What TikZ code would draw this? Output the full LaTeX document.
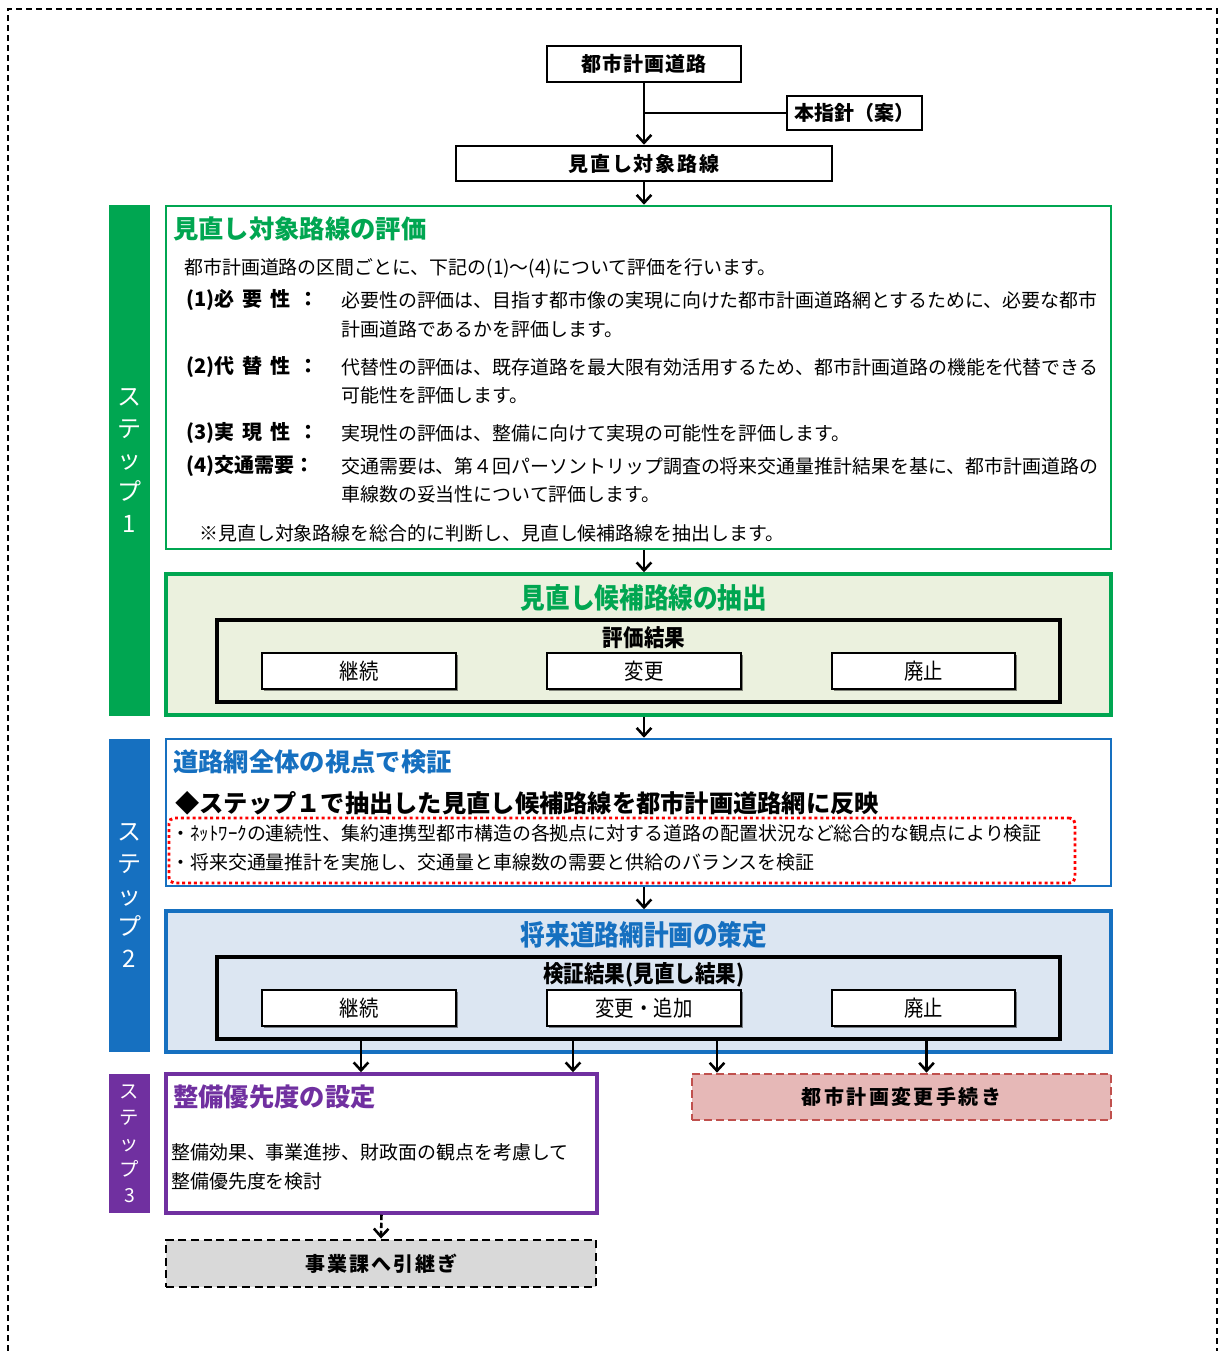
\documentclass[tikz,border=0pt]{standalone}
\usepackage{fontspec}
\setmainfont{Noto Sans CJK JP}
\usepackage{graphicx}
\usetikzlibrary{arrows.meta,calc,shadows}
\definecolor{sgreen}{RGB}{0,166,81}
\definecolor{lgreen}{RGB}{235,241,222}
\definecolor{sblue}{RGB}{22,112,192}
\definecolor{lblue}{RGB}{220,230,242}
\definecolor{spurple}{RGB}{112,48,160}
\definecolor{redfill}{RGB}{230,184,183}
\definecolor{redline}{RGB}{192,80,77}
\definecolor{grayfill}{RGB}{217,217,217}
\newcommand{\jbody}{\fontsize{14.2pt}{17pt}\selectfont}
\newcommand{\jtitle}{\fontsize{19pt}{22pt}\selectfont\bfseries}
\newcommand{\jctitle}{\fontsize{21pt}{24pt}\selectfont\bfseries}
\newcommand{\jitem}{\fontsize{15pt}{18pt}\selectfont\bfseries}
\newcommand{\jbox}{\fontsize{15pt}{18pt}\selectfont\bfseries}
\newcommand{\jres}{\fontsize{16.5pt}{19pt}\selectfont}
\newcommand{\jhead}{\fontsize{17.5pt}{20pt}\selectfont\bfseries}
\newcommand{\jcond}[1]{\scalebox{0.88}[1]{#1}}
\tikzset{
  conn/.style={line width=1.9pt},
  arr/.style={conn,-{Straight Barb[length=6pt,width=11pt]}},
  blk/.style={draw,line width=1.9pt,fill=white,inner sep=0pt,font=\jbox},
  res/.style={draw,line width=1.5pt,fill=white,inner sep=0pt,font=\jres,
    minimum width=194*0.75pt,minimum height=36*0.75pt,
    drop shadow={shadow xshift=1.3pt,shadow yshift=-1.3pt,fill=black,opacity=0.45}},
  inbox/.style={draw,line width=2.3pt,inner sep=0pt,minimum width=843*0.75pt,minimum height=82*0.75pt},
  side/.style={inner sep=0pt,minimum width=41*0.75pt,text=white,align=center},
  bigbox/.style={inner sep=0pt,minimum width=945*0.75pt},
  txt/.style={anchor=west,inner sep=0pt,font=\jbody},
  itm/.style={anchor=west,inner sep=0pt,font=\jitem},
}
\begin{document}
\begin{tikzpicture}[x=0.75pt,y=-0.75pt]
\useasboundingbox (0,0) rectangle (1219,1351);
\fill[white] (0,0) rectangle (1219,1351);
\draw[line width=0.8pt,dash pattern=on 4.5pt off 3pt] (8,1351) -- (8,9) -- (1217,9) -- (1217,1351);

% ---- top
\node[blk,minimum width=194*0.75pt,minimum height=36*0.75pt] (toshi) at (644,64) {\addfontfeature{LetterSpace=5}都市計画道路};
\node[blk,minimum width=135*0.75pt,minimum height=34*0.75pt] (shishin) at (854.5,113) {本指針（案）};
\node[blk,minimum width=376*0.75pt,minimum height=35*0.75pt] (taisho) at (644,163.5) {\addfontfeature{LetterSpace=9}見直し対象路線};

% ---- step 1
\node[side,fill=sgreen,minimum height=511*0.75pt,font=\fontsize{18pt}{23.8pt}\selectfont] (side1) at (129.5,460.5) {ス\\テ\\ッ\\プ\\1};
\node[bigbox,draw=sgreen,line width=1.9pt,fill=white,minimum height=343*0.75pt] (s1a) at (638.5,377.5) {};
\node[txt,font=\jtitle,text=sgreen] (t1) at (173,229) {見直し対象路線の評価};
\node[txt] (l0) at (184,268) {都市計画道路の区間ごとに、下記の(1)～(4)について評価を行います。};
\node[itm] (i1) at (186,300) {(1)必\hspace{0.4em}要\hspace{0.4em}性\hspace{0.4em}：};
\node[txt] (l1a) at (341,300) {必要性の評価は、目指す都市像の実現に向けた都市計画道路網とするために、必要な都市};
\node[txt] (l1b) at (341,329) {計画道路であるかを評価します。};
\node[itm] (i2) at (186,367) {(2)代\hspace{0.4em}替\hspace{0.4em}性\hspace{0.4em}：};
\node[txt] (l2a) at (341,367) {代替性の評価は、既存道路を最大限有効活用するため、都市計画道路の機能を代替できる};
\node[txt] (l2b) at (341,395) {可能性を評価します。};
\node[itm] (i3) at (186,433) {(3)実\hspace{0.4em}現\hspace{0.4em}性\hspace{0.4em}：};
\node[txt] (l3a) at (341,433) {実現性の評価は、整備に向けて実現の可能性を評価します。};
\node[itm] (i4) at (186,466) {(4)交通需要：};
\node[txt] (l4a) at (341,466) {交通需要は、第４回パーソントリップ調査の将来交通量推計結果を基に、都市計画道路の};
\node[txt] (l4b) at (341,494) {車線数の妥当性について評価します。};
\node[txt] (note) at (199,533) {※見直し対象路線を総合的に判断し、見直し候補路線を抽出します。};

\node[bigbox,draw=sgreen,line width=2.6pt,fill=lgreen,minimum height=141*0.75pt] (s1b) at (638.5,644.5) {};
\node[inner sep=0pt,font=\jctitle,text=sgreen] (t2) at (644,598) {\jcond{見直し候補路線の抽出}};
\node[inbox] (s1in) at (638.5,661) {};
\node[inner sep=0pt,font=\jhead] (s1hk) at (644,638) {\jcond{評価結果}};
\node[res] (s1k) at (359,671) {\jcond{継続}};
\node[res] (s1h) at (644,671) {\jcond{変更}};
\node[res,minimum width=183*0.75pt] (s1x) at (923.5,671) {\jcond{廃止}};

% ---- step 2
\node[side,fill=sblue,minimum height=313*0.75pt,font=\fontsize{18pt}{23.8pt}\selectfont] (side2) at (129.5,895.5) {ス\\テ\\ッ\\プ\\2};
\node[bigbox,draw=sblue,line width=1.9pt,fill=white,minimum height=147*0.75pt] (s2a) at (638.5,812.5) {};
\node[txt,font=\jtitle,text=sblue] (t3) at (173,762) {道路網全体の視点で検証};
\node[txt,font=\fontsize{18.2pt}{21pt}\selectfont\bfseries] (t3b) at (175,803) {◆ステップ１で抽出した見直し候補路線を都市計画道路網に反映};
\node[draw=red,line width=2.2pt,dash pattern=on 2.2pt off 2.2pt,rounded corners=4pt,inner sep=0pt,
  minimum width=906*0.75pt,minimum height=65*0.75pt] (dots) at (622,850.5) {};
\node[txt] (d1) at (171,833) {・ﾈｯﾄﾜｰｸの連続性、集約連携型都市構造の各拠点に対する道路の配置状況など総合的な観点により検証};
\node[txt] (d2) at (171,862) {・将来交通量推計を実施し、交通量と車線数の需要と供給のバランスを検証};

\node[bigbox,draw=sblue,line width=2.6pt,fill=lblue,minimum height=141*0.75pt] (s2b) at (638.5,981.5) {};
\node[inner sep=0pt,font=\jctitle,text=sblue] (t4) at (644,935) {\jcond{将来道路網計画の策定}};
\node[inbox] (s2in) at (638.5,998) {};
\node[inner sep=0pt,font=\jhead] (s2hk) at (644,975) {\jcond{検証結果(見直し結果)}};
\node[res] (s2k) at (359,1008) {\jcond{継続}};
\node[res] (s2h) at (644,1008) {\jcond{変更・追加}};
\node[res,minimum width=183*0.75pt] (s2x) at (923.5,1008) {\jcond{廃止}};

% ---- step 3
\node[side,fill=spurple,minimum height=139*0.75pt,font=\fontsize{14.5pt}{19.5pt}\selectfont] (side3) at (129.5,1143.5) {ス\\テ\\ッ\\プ\\3};
\node[draw=spurple,line width=2.6pt,fill=white,inner sep=0pt,minimum width=431*0.75pt,minimum height=139*0.75pt] (s3) at (381.5,1143.5) {};
\node[txt,font=\jtitle,text=spurple] (t5) at (173,1097) {整備優先度の設定};
\node[txt] (p1) at (171,1152) {整備効果、事業進捗、財政面の観点を考慮して};
\node[txt] (p2) at (171,1181) {整備優先度を検討};

\node[draw=redline,fill=redfill,line width=2pt,dash pattern=on 6pt off 3pt,inner sep=0pt,font=\jbox,
  minimum width=419*0.75pt,minimum height=46*0.75pt] (red) at (901.5,1097) {\addfontfeature{LetterSpace=12}都市計画変更手続き};
\node[draw=black,fill=grayfill,line width=2.2pt,dash pattern=on 6pt off 3.5pt,inner sep=0pt,font=\jbox,
  minimum width=430*0.75pt,minimum height=47*0.75pt] (gray) at (381,1263.5) {\addfontfeature{LetterSpace=10}事業課へ引継ぎ};

% ---- connectors
\draw[arr] (toshi.south) -- (taisho.north);
\draw[conn] (shishin.west) -- (toshi.south |- shishin.west);
\draw[arr] (taisho.south) -- (s1a.north -| taisho.south);
\draw[arr] (s1a.south -| taisho.south) -- (s1b.north -| taisho.south);
\draw[arr] (s1b.south -| taisho.south) -- (s2a.north -| taisho.south);
\draw[arr] (s2a.south -| taisho.south) -- (s2b.north -| taisho.south);
\draw[arr] ($(s2k.south |- s2in.south)+(2,0)$) -- ($(s2k.south |- s3.north)+(2,0)$);
\draw[arr] ($(s2h.south west |- s2in.south)+(27,0)$) -- ($(s2h.south west |- s3.north)+(27,0)$);
\draw[arr] ($(s2h.south east |- s2in.south)+(-25,0)$) -- ($(s2h.south east |- red.north)+(-25,0)$);
\draw[arr] ($(s2x.south |- s2in.south)+(3,0)$) -- ($(s2x.south |- red.north)+(3,0)$);
\draw[arr,dash pattern=on 4pt off 2pt] (s3.south) -- (gray.north);
\end{tikzpicture}
\end{document}
